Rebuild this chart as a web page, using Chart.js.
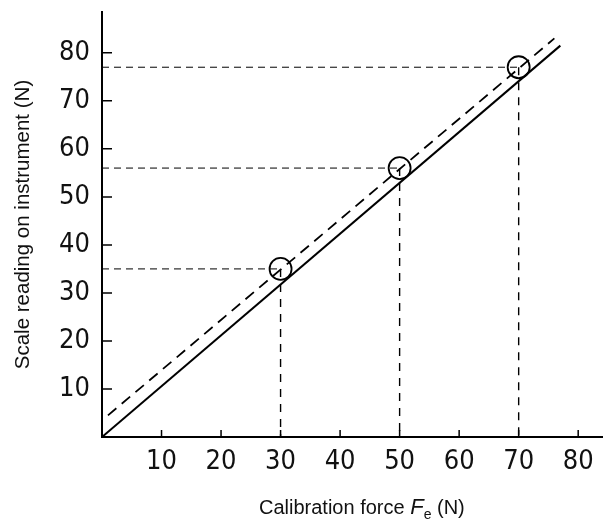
<!DOCTYPE html>
<html>
<head>
<meta charset="utf-8">
<script src="https://cdn.jsdelivr.net/npm/chart.js@4"></script>
<style>
  body { margin: 0; background: #fff; }
  #wrap { position: relative; width: 611px; height: 522px; }
  #xtitle {
    position: absolute; left: 259px; top: 494px;
    font: 20px "Liberation Sans", Arial, sans-serif; color: #111; white-space: nowrap;
  }
  #xtitle i { font-size: 22px; }
  #xtitle sub { font-size: 14px; }
</style>
</head>
<body>
<div id="wrap">
  <canvas id="chart"></canvas>
  <div id="xtitle">Calibration force <i>F</i><sub>e</sub> (N)</div>
</div>
<script>
// calibration points (force applied, scale reading)
const calForce = [30, 50, 70];
const scaleReading = [35, 56, 77];
// ideal response (solid) and fitted instrument response (dashed)
const idealLine = [[0, 0], [77, 81.5]];
const fitLine = [[1, 4.5], [76, 83]];
const xTicks = [10, 20, 30, 40, 50, 60, 70, 80];
const yTicks = [10, 20, 30, 40, 50, 60, 70, 80];

const tickFont = { family: "'Liberation Sans Narrow', 'DejaVu Sans Condensed', sans-serif", size: 27 };
const toPts = arr => arr.map(([x, y]) => ({ x, y }));

const datasets = [
  { data: toPts(idealLine), borderColor: "#000", borderWidth: 2, pointRadius: 0 },
  { data: toPts(fitLine), borderColor: "#000", borderWidth: 1.8, borderDash: [11, 7], pointRadius: 0 },
  {
    data: calForce.map((x, i) => ({ x, y: scaleReading[i] })),
    showLine: false, pointRadius: 11, pointStyle: "circle",
    pointBorderColor: "#000", pointBorderWidth: 1.8, pointBackgroundColor: "rgba(0,0,0,0)"
  }
];

// guide lines from each point across to the y axis and down to the x axis
calForce.forEach((x, i) => {
  const y = scaleReading[i];
  datasets.push({ data: [{ x: 0, y }, { x, y }], borderColor: "#000", borderWidth: 1, borderDash: [7, 5], pointRadius: 0 });
  datasets.push({ data: [{ x, y }, { x, y: 0 }], borderColor: "#000", borderWidth: 1.4, borderDash: [8, 7], pointRadius: 0 });
});

// tick marks drawn inwards, like the printed figure
const innerTicks = {
  id: "innerTicks",
  afterDraw(chart) {
    const { ctx, scales: { x, y }, chartArea } = chart;
    ctx.save();
    ctx.strokeStyle = "#000";
    ctx.lineWidth = 1.5;
    ctx.beginPath();
    xTicks.forEach(v => {
      const px = x.getPixelForValue(v);
      ctx.moveTo(px, chartArea.bottom);
      ctx.lineTo(px, chartArea.bottom - 7);
    });
    yTicks.forEach(v => {
      const py = y.getPixelForValue(v);
      ctx.moveTo(chartArea.left, py);
      ctx.lineTo(chartArea.left + 10, py);
    });
    ctx.stroke();
    ctx.restore();
  }
};

const noPad = s => { s.paddingTop = 0; s.paddingBottom = 0; s.paddingLeft = 0; s.paddingRight = 0; };

new Chart(document.getElementById("chart"), {
  type: "line",
  data: { datasets },
  options: {
    responsive: true,
    maintainAspectRatio: false,
    animation: false,
    layout: { autoPadding: false, padding: { top: 12, right: 9, bottom: 0, left: 0 } },
    plugins: { legend: { display: false }, tooltip: { enabled: false } },
    scales: {
      x: {
        type: "linear", min: 0, max: 84,
        afterBuildTicks: s => { s.ticks = xTicks.map(value => ({ value })); },
        afterFit: s => { s.height = 85; noPad(s); },
        grid: { display: false, drawTicks: false },
        border: { display: true, color: "#000", width: 2 },
        ticks: { color: "#111", font: tickFont, padding: 9, maxRotation: 0 }
      },
      y: {
        type: "linear", min: 0, max: 88.5,
        afterBuildTicks: s => { s.ticks = yTicks.map(value => ({ value })); },
        afterFit: s => { s.width = 102; noPad(s); },
        grid: { display: false, drawTicks: false },
        border: { display: true, color: "#000", width: 2 },
        ticks: { color: "#111", font: tickFont, padding: 12 },
        title: {
          display: true, text: "Scale reading on instrument (N)", color: "#111",
          font: { family: "'Liberation Sans', Arial, sans-serif", size: 20.5 },
          padding: { top: 11, bottom: 0 }
        }
      }
    }
  },
  plugins: [innerTicks]
});
</script>
</body>
</html>
